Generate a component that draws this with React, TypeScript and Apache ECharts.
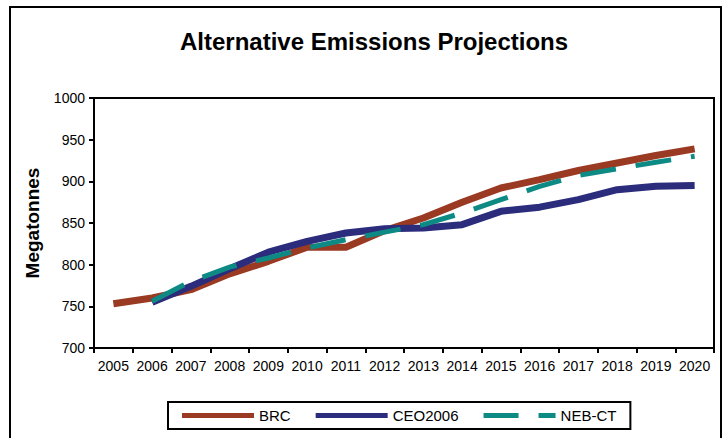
import React, { useEffect, useRef } from "react";
import * as echarts from "echarts";

const years = ["2005","2006","2007","2008","2009","2010","2011","2012","2013","2014","2015","2016","2017","2018","2019","2020"];
const brc = [753, 760, 770, 789, 804, 821, 821, 841, 856, 875, 892, 902, 913, 922, 931, 939];
const ceo2006 = [null, 755, 774, 795, 815, 828, 838, 843, 844, 848, 864, 869, 878, 890, 894, 895];
const nebct = [null, 756, 780, 797, 808, 820, 830, 839, 848, 862, 878, 894, 907, 915, 923, 930];

const FONT = "'Liberation Sans', Arial, sans-serif";

export default function App() {
  const ref = useRef<HTMLDivElement>(null);
  useEffect(() => {
    if (!ref.current) return;
    const chart = echarts.init(ref.current, null, { renderer: "svg" });
    chart.setOption({
      animation: false,
      backgroundColor: "#fff",
      textStyle: { fontFamily: FONT, color: "#000" },
      title: {
        text: "Alternative Emissions Projections",
        left: 180,
        top: 29,
        padding: 0,
        textStyle: { fontFamily: FONT, fontSize: 24, fontWeight: "bold", color: "#000" },
      },
      graphic: [
        {
          type: "rect",
          shape: { x: 10, y: 7, width: 711, height: 450 },
          style: { fill: "none", stroke: "#000", lineWidth: 2 },
          silent: true,
        },
      ],
      grid: {
        left: 94, right: 10, top: 98, bottom: 90,
        show: true, borderColor: "#000", borderWidth: 2,
      },
      legend: {
        left: 168, top: 402,
        padding: [6, 14],
        borderColor: "#000", borderWidth: 2,
        itemWidth: 72, itemHeight: 5, itemGap: 25,
        textStyle: { fontFamily: FONT, fontSize: 15, color: "#000" },
        data: [
          { name: "BRC", icon: "rect" },
          { name: "CEO2006", icon: "rect" },
          { name: "NEB-CT", icon: "path://M0,0H35V5H0Z M55,0H72V5H55Z" },
        ],
      },
      xAxis: {
        type: "category",
        data: years,
        boundaryGap: true,
        axisLine: { lineStyle: { color: "#000", width: 2 } },
        axisTick: { show: true, length: 5, lineStyle: { color: "#000", width: 2 } },
        axisLabel: { color: "#000", fontSize: 14, margin: 11, fontFamily: FONT, interval: 0 },
        splitLine: { show: false },
      },
      yAxis: {
        type: "value",
        min: 700, max: 1000, interval: 50,
        name: "Megatonnes",
        nameLocation: "middle",
        nameGap: 52,
        nameTextStyle: { fontFamily: FONT, fontSize: 19, fontWeight: "bold", color: "#000" },
        axisLine: { show: true, lineStyle: { color: "#000", width: 2 } },
        axisTick: { show: true, length: 5, lineStyle: { color: "#000", width: 2 } },
        axisLabel: {
          color: "#000", fontSize: 14, margin: 9, fontFamily: FONT,
          formatter: (v: number) => String(v),
        },
        splitLine: { show: false },
      },
      series: [
        {
          name: "BRC", type: "line", data: brc, symbol: "none",
          color: "#9A3A22",
          itemStyle: { color: "#9A3A22" },
          lineStyle: { color: "#9A3A22", width: 7, cap: "butt" },
        },
        {
          name: "CEO2006", type: "line", data: ceo2006, symbol: "none",
          color: "#2C2C7C",
          itemStyle: { color: "#2C2C7C" },
          lineStyle: { color: "#2C2C7C", width: 7, cap: "butt" },
        },
        {
          name: "NEB-CT", type: "line", data: nebct, symbol: "none",
          color: "#0E8A84",
          itemStyle: { color: "#0E8A84" },
          lineStyle: { color: "#0E8A84", width: 5, type: [36, 20], cap: "butt" },
        },
      ],
    });
    return () => chart.dispose();
  }, []);
  return (
    <div
      ref={ref}
      style={{ position: "absolute", left: 0, top: 0, width: 724, height: 438 }}
    />
  );
}
